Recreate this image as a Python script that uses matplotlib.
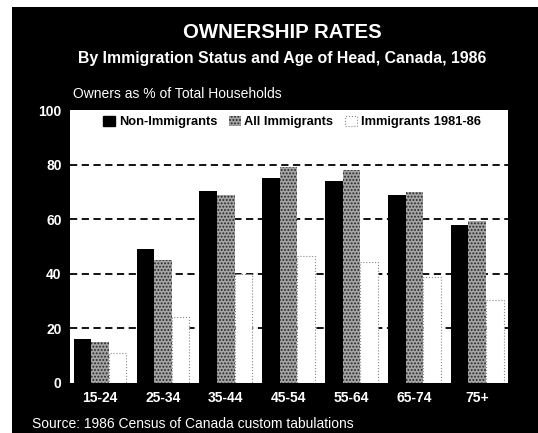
import numpy as np
import matplotlib.pyplot as plt
from matplotlib.patches import Rectangle, Patch

plt.rcParams['font.family'] = ['Liberation Sans', 'DejaVu Sans']
plt.rcParams['hatch.linewidth'] = 0.9

ages = ['15-24', '25-34', '35-44', '45-54', '55-64', '65-74', '75+']
non_imm = [16, 49, 70.5, 75, 74, 69, 58]
all_imm = [15, 45, 69, 79, 78, 70, 59.5]
imm_8186 = [11, 24, 40, 46.5, 44.5, 39, 30.5]

fig = plt.figure(figsize=(5.38, 4.33), dpi=100)
fig.patch.set_facecolor('white')
# black panel behind everything
fig.patches.append(Rectangle((12/538, 0), 526/538, 1 - 7/433, transform=fig.transFigure,
                             facecolor='black', edgecolor='none', zorder=-10))

ax = fig.add_axes([70/538, 50/433, 438/538, 273/433])
ax.set_facecolor('white')

x = np.arange(len(ages))
w = 0.28
grey_face, grey_dots = '#a4a4a4', '#262626'
ax.bar(x - w, non_imm, w, color='black', zorder=3)
ax.bar(x, all_imm, w, facecolor=grey_face, edgecolor=grey_dots, linewidth=0,
       hatch='.....', zorder=3)
ax.bar(x + w, imm_8186, w, facecolor='white', edgecolor='#888888', linewidth=0.8,
       linestyle=':', zorder=3)

ax.set_xlim(-0.478, 6.49)
ax.set_ylim(0, 100)
ax.set_yticks([0, 20, 40, 60, 80, 100])
ax.set_xticks(x)
ax.set_xticklabels(ages, fontweight='bold')
for lbl in ax.get_yticklabels():
    lbl.set_fontweight('bold')
for yv in [20, 40, 60, 80]:
    ax.axhline(yv, color='black', lw=1.3, ls=(0, (4, 2.5)), zorder=1)
for s in ax.spines.values():
    s.set_visible(False)
ax.tick_params(axis='both', length=0, colors='white', labelsize=10)
ax.tick_params(axis='y', pad=6)
ax.tick_params(axis='x', pad=6)

handles = [Patch(facecolor='black', edgecolor='black'),
           Patch(facecolor=grey_face, edgecolor=grey_dots, hatch='.....', linewidth=0),
           Patch(facecolor='white', edgecolor='#888888', linestyle=':', linewidth=0.8)]
ax.legend(handles, ['Non-Immigrants', 'All Immigrants', 'Immigrants 1981-86'],
          loc='center', bbox_to_anchor=(292/538, 1 - 122/433),
          bbox_transform=fig.transFigure, ncol=3, frameon=False,
          handlelength=0.9, handleheight=0.9, handletextpad=0.3, columnspacing=0.9,
          prop={'weight': 'bold', 'size': 9.3})

fig.text(282/538, 1 - 33/433, 'OWNERSHIP RATES', color='white', fontsize=14.7,
         fontweight='bold', ha='center', va='center')
fig.text(282/538, 1 - 58/433, 'By Immigration Status and Age of Head, Canada, 1986',
         color='white', fontsize=11.4, fontweight='bold', ha='center', va='center')
fig.text(73/538, 1 - 94/433, 'Owners as % of Total Households', color='white',
         fontsize=10, ha='left', va='center')
fig.text(32/538, 1 - 424/433, 'Source: 1986 Census of Canada custom tabulations',
         color='white', fontsize=10, ha='left', va='center')

fig.savefig('out.png', dpi=100, facecolor=fig.get_facecolor())
